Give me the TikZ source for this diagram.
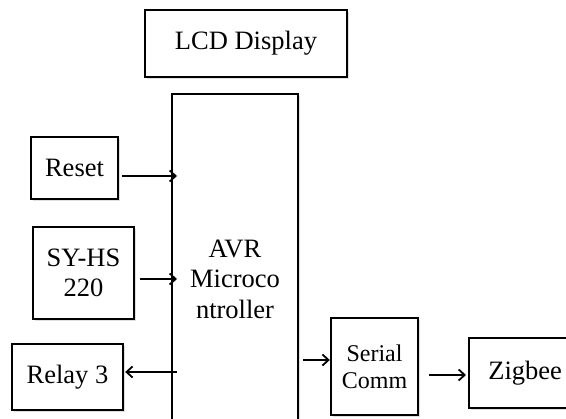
\documentclass[tikz,border=0pt]{standalone}
\usepackage{fontspec}
\setmainfont{Liberation Serif}
\usetikzlibrary{arrows.meta,shadows}
\begin{document}
\begin{tikzpicture}[x=1pt,y=-1pt,
  blk/.style={draw=black,line width=2.4pt,fill=white,inner sep=0pt,align=center,
    font=\fontsize{26.5}{30.5}\selectfont,
    drop shadow={opacity=0.25,shadow xshift=2pt,shadow yshift=-2pt}},
  arr/.style={line width=1.8pt,-{Straight Barb[length=6pt,width=11pt,line width=1.8pt]}}]
\useasboundingbox[fill=white] (0,0) rectangle (566,419);
\node[blk,minimum width=202pt,minimum height=67pt] (lcd) at (246,43.5) {LCD Display};
\node[blk,minimum width=126pt,minimum height=370pt,anchor=north] (avr) at (235,93) {AVR\\Microco\\ntroller};
\node[blk,minimum width=87pt,minimum height=62pt] (reset) at (74.5,168) {Reset};
\node[blk,minimum width=101pt,minimum height=92pt] (sy) at (83.5,273) {SY-HS\\220};
\node[blk,minimum width=111pt,minimum height=66pt] (relay) at (67.5,377) {Relay 3};
\node[blk,minimum width=87pt,minimum height=97pt,font=\fontsize{24}{27}\selectfont] (serial) at (374.5,366.5) {Serial\\Comm};
\node[blk,minimum width=112pt,minimum height=70pt,anchor=west] (zig) at (468,373) {Zigbee};
\coordinate (r1) at (177,176);
\coordinate (s1) at (177,279);
\coordinate (l1) at (177,372);
\coordinate (a1) at (303,360);
\coordinate (z1) at (429,375);
\draw[arr] ([xshift=3pt]reset.east |- r1) -- (r1);
\draw[arr] ([xshift=5pt]sy.east |- s1) -- (s1);
\draw[arr] (l1) -- ([xshift=1pt]relay.east |- l1);
\draw[arr] (a1) -- (serial.west |- a1);
\draw[arr] (z1) -- ([xshift=-2pt]zig.west |- z1);
\end{tikzpicture}
\end{document}
